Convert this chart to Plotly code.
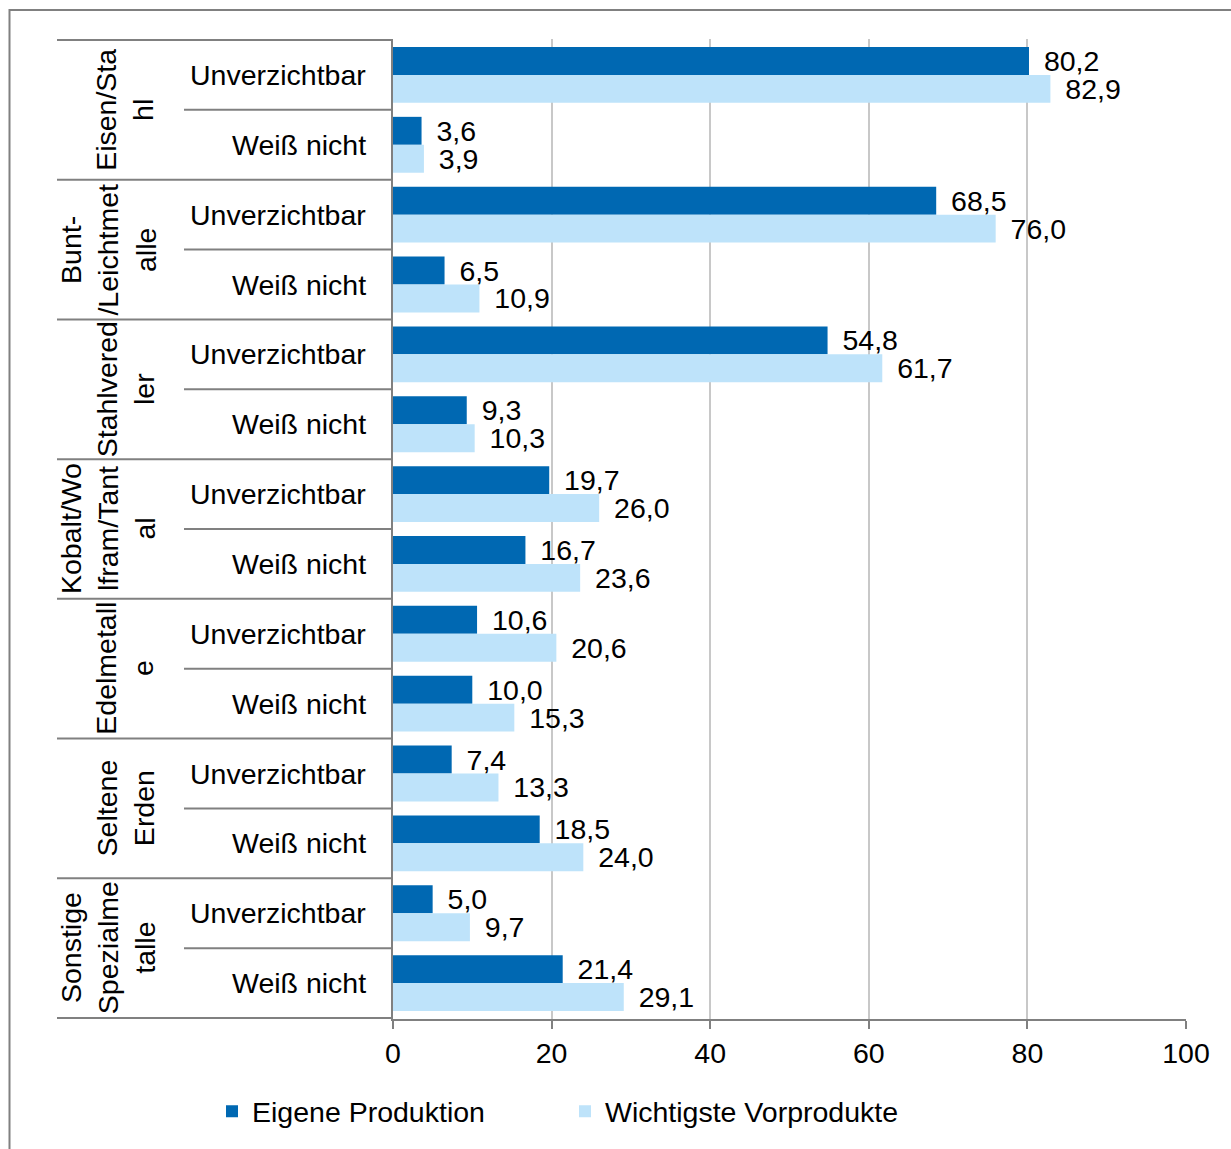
import plotly.graph_objects as go

# --- data -------------------------------------------------------------
groups = ["Eisen/Stahl", "Bunt-/Leichtmetalle", "Stahlveredler",
          "Kobalt/Wolfram/Tantal", "Edelmetalle", "Seltene Erden",
          "Sonstige Spezialmetalle"]
# group labels as they wrap inside the narrow label column
group_labels = ["Eisen/Sta<br>hl", "Bunt-<br>/Leichtmet<br>alle", "Stahlvered<br>ler",
                "Kobalt/Wo<br>lfram/Tant<br>al", "Edelmetall<br>e", "Seltene<br>Erden",
                "Sonstige<br>Spezialme<br>talle"]
answers = ["Unverzichtbar", "Weiß nicht"]

eigene_produktion = [80.2, 3.6, 68.5, 6.5, 54.8, 9.3, 19.7, 16.7, 10.6, 10.0, 7.4, 18.5, 5.0, 21.4]
wichtigste_vorprodukte = [82.9, 3.9, 76.0, 10.9, 61.7, 10.3, 26.0, 23.6, 20.6, 15.3, 13.3, 24.0, 9.7, 29.1]

x_ticks = [0, 20, 40, 60, 80, 100]

# --- layout geometry (pixels) ----------------------------------------
W, H = 1231, 1149
L, R, T, B = 393, 45, 39, 127
PW, PH = W - L - R, H - T - B

def px_x(px):
    return (px - L) / PW

def px_y(py):
    return (H - B - py) / PH

FONT = "Liberation Sans, Arial, sans-serif"
FS = 28.5
DARK = "#0068B2"
LIGHT = "#BEE3FA"
LINE = "#808080"

rows = [f"{g} | {a}" for g in groups for a in answers]

fig = go.Figure()
for name, vals, col in [("Eigene Produktion", eigene_produktion, DARK),
                        ("Wichtigste Vorprodukte", wichtigste_vorprodukte, LIGHT)]:
    fig.add_trace(go.Bar(
        name=name, x=vals, y=rows, orientation="h",
        marker=dict(color=col, line=dict(width=0)),
        texttemplate="\u2004\u200a%{x:.1f}", textposition="outside",
        constraintext="none", cliponaxis=False,
        textfont=dict(family=FONT, size=FS, color="#000000"),
    ))

# answer labels next to the axis
for r, row in enumerate(rows):
    fig.add_annotation(xref="paper", yref="y", x=px_x(368), y=row,
                       text=answers[r % 2], showarrow=False, xanchor="right",
                       font=dict(family=FONT, size=FS, color="#000000"))

# rotated group labels
for gi, lab in enumerate(group_labels):
    nlines = lab.count("<br>") + 1
    cx = 108 if nlines == 3 else 125
    fig.add_annotation(xref="paper", yref="y", x=px_x(cx), y=gi * 2 + 0.5,
                       text=lab, showarrow=False, textangle=-90,
                       xanchor="center", yanchor="middle",
                       font=dict(family=FONT, size=FS, color="#000000"))

# separator lines of the category table
shapes = []
for k in range(len(rows) + 1):
    yk = k - 0.5
    x0 = 57 if k % 2 == 0 else 184
    shapes.append(dict(type="line", xref="paper", yref="y",
                       x0=px_x(x0), x1=0, y0=yk, y1=yk,
                       line=dict(color=LINE, width=2)))

# outer chart frame
shapes.append(dict(type="rect", xref="paper", yref="paper",
                   x0=px_x(9.5), x1=px_x(1245), y0=px_y(1165), y1=px_y(10),
                   line=dict(color=LINE, width=2), fillcolor="rgba(0,0,0,0)"))

fig.update_layout(
    width=W, height=H,
    margin=dict(l=L, r=R, t=T, b=B, pad=0),
    paper_bgcolor="white", plot_bgcolor="white",
    separators=",.",
    barmode="group", bargap=0.2, bargroupgap=0,
    font=dict(family=FONT, size=FS, color="#000000"),
    shapes=shapes,
    showlegend=True,
    legend=dict(orientation="h", x=px_x(212), xanchor="left",
                y=px_y(1115), yanchor="middle", entrywidth=308,
                font=dict(family=FONT, size=FS, color="#000000"),
                bgcolor="rgba(0,0,0,0)"),
    xaxis=dict(range=[0, 100], tickvals=x_ticks, ticktext=[str(v) for v in x_ticks],
               showgrid=True, gridcolor="#C8C8C8", gridwidth=1.5,
               zeroline=False, showline=True, linecolor=LINE, linewidth=2,
               ticks="outside", ticklen=8, tickcolor=LINE, tickwidth=2,
               tickfont=dict(family=FONT, size=FS, color="#000000"),
               fixedrange=True),
    yaxis=dict(categoryorder="array", categoryarray=rows, autorange="reversed",
               showticklabels=False, showgrid=False, zeroline=False,
               showline=True, linecolor=LINE, linewidth=2, ticks="",
               fixedrange=True),
)

fig.write_html("out.html")
